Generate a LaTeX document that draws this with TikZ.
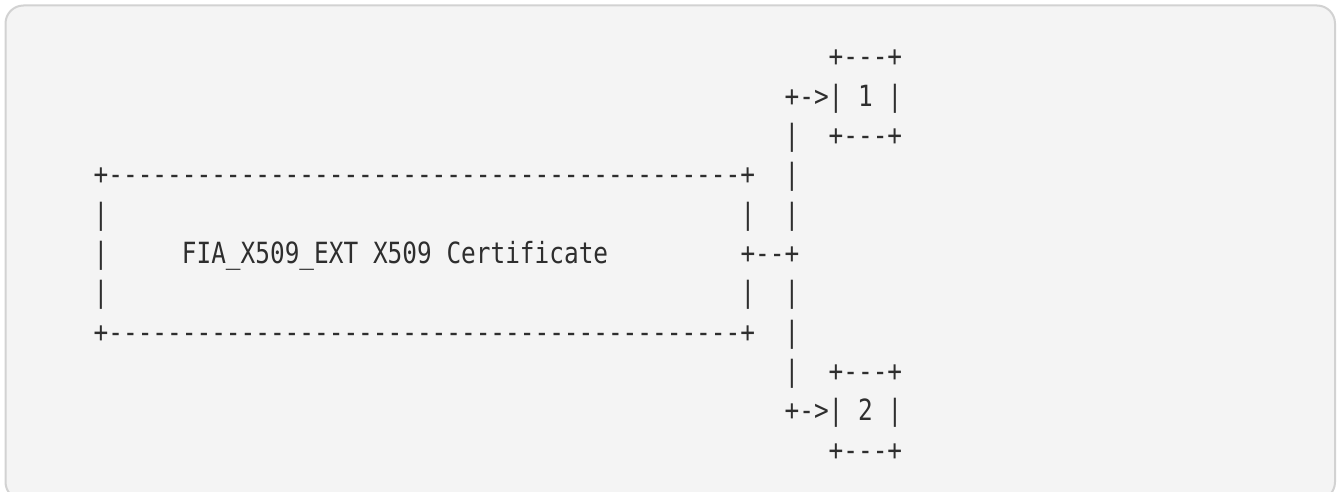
\documentclass[tikz,border=0pt]{standalone}
\usepackage{fontspec}
\setmonofont{DejaVu Sans Mono}[FakeStretch=0.836]
\definecolor{codebg}{HTML}{F4F4F4}
\definecolor{codeborder}{HTML}{D2D2D2}
\definecolor{codetext}{HTML}{2E2E2E}
\tikzset{
  asc/.style={anchor=base west, inner sep=0pt, outer sep=0pt, text=codetext,
    font=\ttfamily\fontsize{14.6pt}{17pt}\selectfont},
}
\newcommand\asc[4]{\node[asc] (#1) at ({93.7+#2*14.7},{#3}) {#4};}
\begin{document}
\begin{tikzpicture}[x=0.5pt,y=-0.5pt]
\useasboundingbox (0,0) rectangle (1338,492);
\clip (0,0) rectangle (1338,492);
\fill[white] (0,0) rectangle (1338,492);
\draw[codeborder, fill=codebg, line width=1pt, rounded corners=9] (5.5,5.5) rectangle (1335,500);
% line 1
\asc{aTop}{50}{66.8}{+---+}
% line 2
\asc{aArrow}{47}{106.1}{+->|}
\asc{aLabel}{52}{106.1}{1}
\asc{aRight}{54}{106.1}{|}
% line 3
\asc{vA}{47}{145.4}{|}
\asc{aBot}{50}{145.4}{+---+}
% line 4
\asc{mTop}{0}{184.7}{+-------------------------------------------+}
\asc{vB}{47}{184.7}{|}
% line 5
\asc{mL1}{0}{224.0}{|}
\asc{mR1}{44}{224.0}{|}
\asc{vC}{47}{224.0}{|}
% line 6
\asc{mL2}{0}{263.5}{|}
\asc{mT1}{6}{263.5}{FIA\_X509\_EXT}
\asc{mT2}{19}{263.5}{X509}
\asc{mT3}{24}{263.5}{Certificate}
\asc{mLink}{44}{263.5}{+--+}
% line 7
\asc{mL3}{0}{302.8}{|}
\asc{mR3}{44}{302.8}{|}
\asc{vD}{47}{302.8}{|}
% line 8
\asc{mBot}{0}{342.1}{+-------------------------------------------+}
\asc{vE}{47}{342.1}{|}
% line 9
\asc{vF}{47}{381.4}{|}
\asc{bTop}{50}{381.4}{+---+}
% line 10
\asc{bArrow}{47}{420.7}{+->|}
\asc{bLabel}{52}{420.7}{2}
\asc{bRight}{54}{420.7}{|}
% line 11
\asc{bBot}{50}{460.0}{+---+}
\end{tikzpicture}
\end{document}
